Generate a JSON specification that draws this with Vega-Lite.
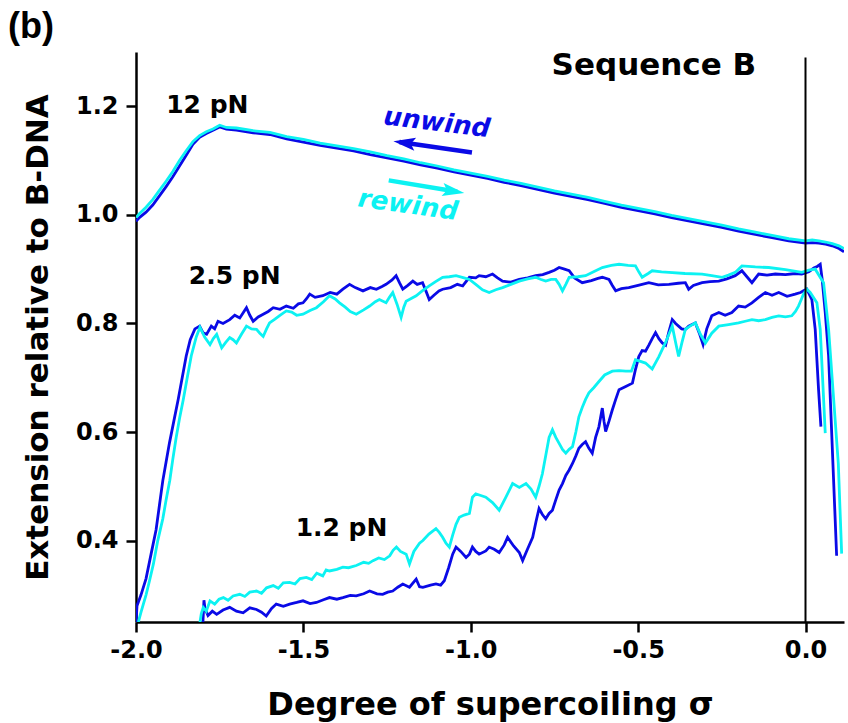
{
"$schema":"https://vega.github.io/schema/vega-lite/v6.json",
"width":708,"height":570,
"autosize":{"type":"none"},
"padding":{"left":136,"top":52,"right":4,"bottom":101},
"background":"white",
"config":{"view":{"stroke":null},"axis":{"grid":false,"domainColor":"black","domainWidth":2.5,"tickColor":"black","tickWidth":2.5,"tickSize":10,"labelFont":"DejaVu Sans","labelFontSize":24,"labelFontWeight":"bold","labelColor":"black","titleFont":"DejaVu Sans","titleFontSize":31,"titleFontWeight":"bold","titleColor":"black","labelFlush":false,"labelOverlap":false}},
"title":{"text":"(b)","anchor":"start","frame":"group","font":"Liberation Sans","fontSize":36,"fontWeight":"bold","color":"black","dx":-128,"dy":36,"offset":12,"baseline":"alphabetic"},
"datasets":{
"curves":[
{"f":"12","d":"unwind","x":-2.0,"y":0.988},{"f":"12","d":"unwind","x":-1.99,"y":0.995},{"f":"12","d":"unwind","x":-1.97,"y":1.005},{"f":"12","d":"unwind","x":-1.95,"y":1.018},{"f":"12","d":"unwind","x":-1.93,"y":1.035},{"f":"12","d":"unwind","x":-1.91,"y":1.052},{"f":"12","d":"unwind","x":-1.89,"y":1.07},{"f":"12","d":"unwind","x":-1.87,"y":1.09},{"f":"12","d":"unwind","x":-1.85,"y":1.11},{"f":"12","d":"unwind","x":-1.83,"y":1.13},{"f":"12","d":"unwind","x":-1.81,"y":1.143},{"f":"12","d":"unwind","x":-1.79,"y":1.15},{"f":"12","d":"unwind","x":-1.77,"y":1.156},{"f":"12","d":"unwind","x":-1.75,"y":1.162},{"f":"12","d":"unwind","x":-1.73,"y":1.158},{"f":"12","d":"unwind","x":-1.7,"y":1.156},{"f":"12","d":"unwind","x":-1.65,"y":1.151},{"f":"12","d":"unwind","x":-1.6,"y":1.148},{"f":"12","d":"unwind","x":-1.55,"y":1.14},{"f":"12","d":"unwind","x":-1.5,"y":1.134},{"f":"12","d":"unwind","x":-1.45,"y":1.128},{"f":"12","d":"unwind","x":-1.4,"y":1.123},{"f":"12","d":"unwind","x":-1.35,"y":1.118},{"f":"12","d":"unwind","x":-1.3,"y":1.111},{"f":"12","d":"unwind","x":-1.25,"y":1.105},{"f":"12","d":"unwind","x":-1.2,"y":1.099},{"f":"12","d":"unwind","x":-1.15,"y":1.092},{"f":"12","d":"unwind","x":-1.1,"y":1.086},{"f":"12","d":"unwind","x":-1.05,"y":1.079},{"f":"12","d":"unwind","x":-1.0,"y":1.073},{"f":"12","d":"unwind","x":-0.95,"y":1.067},{"f":"12","d":"unwind","x":-0.9,"y":1.06},{"f":"12","d":"unwind","x":-0.85,"y":1.054},{"f":"12","d":"unwind","x":-0.8,"y":1.047},{"f":"12","d":"unwind","x":-0.75,"y":1.04},{"f":"12","d":"unwind","x":-0.7,"y":1.034},{"f":"12","d":"unwind","x":-0.65,"y":1.028},{"f":"12","d":"unwind","x":-0.6,"y":1.021},{"f":"12","d":"unwind","x":-0.55,"y":1.014},{"f":"12","d":"unwind","x":-0.5,"y":1.008},{"f":"12","d":"unwind","x":-0.45,"y":1.002},{"f":"12","d":"unwind","x":-0.4,"y":0.995},{"f":"12","d":"unwind","x":-0.35,"y":0.989},{"f":"12","d":"unwind","x":-0.3,"y":0.983},{"f":"12","d":"unwind","x":-0.25,"y":0.977},{"f":"12","d":"unwind","x":-0.2,"y":0.97},{"f":"12","d":"unwind","x":-0.15,"y":0.964},{"f":"12","d":"unwind","x":-0.1,"y":0.958},{"f":"12","d":"unwind","x":-0.05,"y":0.952},{"f":"12","d":"unwind","x":0.0,"y":0.948},{"f":"12","d":"unwind","x":0.02,"y":0.949},{"f":"12","d":"unwind","x":0.04,"y":0.948},{"f":"12","d":"unwind","x":0.06,"y":0.946},{"f":"12","d":"unwind","x":0.08,"y":0.943},{"f":"12","d":"unwind","x":0.1,"y":0.938},{"f":"12","d":"unwind","x":0.115,"y":0.932},
{"f":"12","d":"rewind","x":-2.0,"y":0.995},{"f":"12","d":"rewind","x":-1.99,"y":1.002},{"f":"12","d":"rewind","x":-1.97,"y":1.014},{"f":"12","d":"rewind","x":-1.95,"y":1.028},{"f":"12","d":"rewind","x":-1.93,"y":1.045},{"f":"12","d":"rewind","x":-1.91,"y":1.062},{"f":"12","d":"rewind","x":-1.89,"y":1.08},{"f":"12","d":"rewind","x":-1.87,"y":1.1},{"f":"12","d":"rewind","x":-1.85,"y":1.118},{"f":"12","d":"rewind","x":-1.83,"y":1.135},{"f":"12","d":"rewind","x":-1.81,"y":1.146},{"f":"12","d":"rewind","x":-1.79,"y":1.153},{"f":"12","d":"rewind","x":-1.77,"y":1.158},{"f":"12","d":"rewind","x":-1.75,"y":1.165},{"f":"12","d":"rewind","x":-1.73,"y":1.161},{"f":"12","d":"rewind","x":-1.7,"y":1.16},{"f":"12","d":"rewind","x":-1.65,"y":1.155},{"f":"12","d":"rewind","x":-1.6,"y":1.152},{"f":"12","d":"rewind","x":-1.55,"y":1.144},{"f":"12","d":"rewind","x":-1.5,"y":1.139},{"f":"12","d":"rewind","x":-1.45,"y":1.132},{"f":"12","d":"rewind","x":-1.4,"y":1.127},{"f":"12","d":"rewind","x":-1.35,"y":1.122},{"f":"12","d":"rewind","x":-1.3,"y":1.116},{"f":"12","d":"rewind","x":-1.25,"y":1.109},{"f":"12","d":"rewind","x":-1.2,"y":1.103},{"f":"12","d":"rewind","x":-1.15,"y":1.096},{"f":"12","d":"rewind","x":-1.1,"y":1.09},{"f":"12","d":"rewind","x":-1.05,"y":1.083},{"f":"12","d":"rewind","x":-1.0,"y":1.077},{"f":"12","d":"rewind","x":-0.95,"y":1.071},{"f":"12","d":"rewind","x":-0.9,"y":1.064},{"f":"12","d":"rewind","x":-0.85,"y":1.058},{"f":"12","d":"rewind","x":-0.8,"y":1.051},{"f":"12","d":"rewind","x":-0.75,"y":1.044},{"f":"12","d":"rewind","x":-0.7,"y":1.038},{"f":"12","d":"rewind","x":-0.65,"y":1.032},{"f":"12","d":"rewind","x":-0.6,"y":1.025},{"f":"12","d":"rewind","x":-0.55,"y":1.018},{"f":"12","d":"rewind","x":-0.5,"y":1.012},{"f":"12","d":"rewind","x":-0.45,"y":1.006},{"f":"12","d":"rewind","x":-0.4,"y":0.999},{"f":"12","d":"rewind","x":-0.35,"y":0.993},{"f":"12","d":"rewind","x":-0.3,"y":0.987},{"f":"12","d":"rewind","x":-0.25,"y":0.981},{"f":"12","d":"rewind","x":-0.2,"y":0.974},{"f":"12","d":"rewind","x":-0.15,"y":0.968},{"f":"12","d":"rewind","x":-0.1,"y":0.962},{"f":"12","d":"rewind","x":-0.05,"y":0.956},{"f":"12","d":"rewind","x":0.0,"y":0.952},{"f":"12","d":"rewind","x":0.02,"y":0.954},{"f":"12","d":"rewind","x":0.04,"y":0.952},{"f":"12","d":"rewind","x":0.06,"y":0.95},{"f":"12","d":"rewind","x":0.08,"y":0.947},{"f":"12","d":"rewind","x":0.1,"y":0.943},{"f":"12","d":"rewind","x":0.115,"y":0.938},
{"f":"2.5","d":"unwind","x":-2.0,"y":0.25},{"f":"2.5","d":"unwind","x":-1.997,"y":0.28},{"f":"2.5","d":"unwind","x":-1.985,"y":0.3},{"f":"2.5","d":"unwind","x":-1.97,"y":0.33},{"f":"2.5","d":"unwind","x":-1.955,"y":0.375},{"f":"2.5","d":"unwind","x":-1.94,"y":0.42},{"f":"2.5","d":"unwind","x":-1.93,"y":0.465},{"f":"2.5","d":"unwind","x":-1.92,"y":0.51},{"f":"2.5","d":"unwind","x":-1.91,"y":0.545},{"f":"2.5","d":"unwind","x":-1.9,"y":0.58},{"f":"2.5","d":"unwind","x":-1.887,"y":0.62},{"f":"2.5","d":"unwind","x":-1.874,"y":0.66},{"f":"2.5","d":"unwind","x":-1.862,"y":0.7},{"f":"2.5","d":"unwind","x":-1.85,"y":0.74},{"f":"2.5","d":"unwind","x":-1.838,"y":0.77},{"f":"2.5","d":"unwind","x":-1.824,"y":0.79},{"f":"2.5","d":"unwind","x":-1.81,"y":0.795},{"f":"2.5","d":"unwind","x":-1.8,"y":0.783},{"f":"2.5","d":"unwind","x":-1.789,"y":0.78},{"f":"2.5","d":"unwind","x":-1.775,"y":0.795},{"f":"2.5","d":"unwind","x":-1.765,"y":0.79},{"f":"2.5","d":"unwind","x":-1.755,"y":0.804},{"f":"2.5","d":"unwind","x":-1.74,"y":0.8},{"f":"2.5","d":"unwind","x":-1.72,"y":0.807},{"f":"2.5","d":"unwind","x":-1.705,"y":0.815},{"f":"2.5","d":"unwind","x":-1.69,"y":0.81},{"f":"2.5","d":"unwind","x":-1.67,"y":0.829},{"f":"2.5","d":"unwind","x":-1.66,"y":0.815},{"f":"2.5","d":"unwind","x":-1.65,"y":0.804},{"f":"2.5","d":"unwind","x":-1.635,"y":0.812},{"f":"2.5","d":"unwind","x":-1.62,"y":0.817},{"f":"2.5","d":"unwind","x":-1.605,"y":0.822},{"f":"2.5","d":"unwind","x":-1.59,"y":0.829},{"f":"2.5","d":"unwind","x":-1.57,"y":0.826},{"f":"2.5","d":"unwind","x":-1.551,"y":0.832},{"f":"2.5","d":"unwind","x":-1.53,"y":0.828},{"f":"2.5","d":"unwind","x":-1.515,"y":0.836},{"f":"2.5","d":"unwind","x":-1.501,"y":0.838},{"f":"2.5","d":"unwind","x":-1.49,"y":0.846},{"f":"2.5","d":"unwind","x":-1.481,"y":0.854},{"f":"2.5","d":"unwind","x":-1.465,"y":0.848},{"f":"2.5","d":"unwind","x":-1.442,"y":0.851},{"f":"2.5","d":"unwind","x":-1.42,"y":0.857},{"f":"2.5","d":"unwind","x":-1.4,"y":0.854},{"f":"2.5","d":"unwind","x":-1.382,"y":0.863},{"f":"2.5","d":"unwind","x":-1.362,"y":0.872},{"f":"2.5","d":"unwind","x":-1.345,"y":0.866},{"f":"2.5","d":"unwind","x":-1.322,"y":0.86},{"f":"2.5","d":"unwind","x":-1.3,"y":0.866},{"f":"2.5","d":"unwind","x":-1.282,"y":0.863},{"f":"2.5","d":"unwind","x":-1.265,"y":0.868},{"f":"2.5","d":"unwind","x":-1.253,"y":0.872},{"f":"2.5","d":"unwind","x":-1.235,"y":0.88},{"f":"2.5","d":"unwind","x":-1.223,"y":0.888},{"f":"2.5","d":"unwind","x":-1.213,"y":0.875},{"f":"2.5","d":"unwind","x":-1.203,"y":0.863},{"f":"2.5","d":"unwind","x":-1.188,"y":0.87},{"f":"2.5","d":"unwind","x":-1.173,"y":0.878},{"f":"2.5","d":"unwind","x":-1.16,"y":0.872},{"f":"2.5","d":"unwind","x":-1.144,"y":0.875},{"f":"2.5","d":"unwind","x":-1.134,"y":0.86},{"f":"2.5","d":"unwind","x":-1.124,"y":0.844},{"f":"2.5","d":"unwind","x":-1.11,"y":0.852},{"f":"2.5","d":"unwind","x":-1.095,"y":0.86},{"f":"2.5","d":"unwind","x":-1.084,"y":0.863},{"f":"2.5","d":"unwind","x":-1.06,"y":0.866},{"f":"2.5","d":"unwind","x":-1.04,"y":0.872},{"f":"2.5","d":"unwind","x":-1.024,"y":0.869},{"f":"2.5","d":"unwind","x":-1.004,"y":0.885},{"f":"2.5","d":"unwind","x":-0.985,"y":0.884},{"f":"2.5","d":"unwind","x":-0.975,"y":0.888},{"f":"2.5","d":"unwind","x":-0.955,"y":0.886},{"f":"2.5","d":"unwind","x":-0.935,"y":0.891},{"f":"2.5","d":"unwind","x":-0.92,"y":0.884},{"f":"2.5","d":"unwind","x":-0.905,"y":0.878},{"f":"2.5","d":"unwind","x":-0.88,"y":0.876},{"f":"2.5","d":"unwind","x":-0.855,"y":0.881},{"f":"2.5","d":"unwind","x":-0.83,"y":0.884},{"f":"2.5","d":"unwind","x":-0.806,"y":0.888},{"f":"2.5","d":"unwind","x":-0.785,"y":0.89},{"f":"2.5","d":"unwind","x":-0.766,"y":0.894},{"f":"2.5","d":"unwind","x":-0.75,"y":0.898},{"f":"2.5","d":"unwind","x":-0.736,"y":0.903},{"f":"2.5","d":"unwind","x":-0.72,"y":0.9},{"f":"2.5","d":"unwind","x":-0.706,"y":0.897},{"f":"2.5","d":"unwind","x":-0.69,"y":0.884},{"f":"2.5","d":"unwind","x":-0.667,"y":0.875},{"f":"2.5","d":"unwind","x":-0.64,"y":0.879},{"f":"2.5","d":"unwind","x":-0.62,"y":0.883},{"f":"2.5","d":"unwind","x":-0.607,"y":0.885},{"f":"2.5","d":"unwind","x":-0.587,"y":0.881},{"f":"2.5","d":"unwind","x":-0.577,"y":0.87},{"f":"2.5","d":"unwind","x":-0.567,"y":0.86},{"f":"2.5","d":"unwind","x":-0.55,"y":0.864},{"f":"2.5","d":"unwind","x":-0.528,"y":0.866},{"f":"2.5","d":"unwind","x":-0.5,"y":0.87},{"f":"2.5","d":"unwind","x":-0.468,"y":0.875},{"f":"2.5","d":"unwind","x":-0.44,"y":0.871},{"f":"2.5","d":"unwind","x":-0.408,"y":0.872},{"f":"2.5","d":"unwind","x":-0.38,"y":0.874},{"f":"2.5","d":"unwind","x":-0.359,"y":0.875},{"f":"2.5","d":"unwind","x":-0.349,"y":0.863},{"f":"2.5","d":"unwind","x":-0.335,"y":0.87},{"f":"2.5","d":"unwind","x":-0.309,"y":0.875},{"f":"2.5","d":"unwind","x":-0.285,"y":0.877},{"f":"2.5","d":"unwind","x":-0.259,"y":0.878},{"f":"2.5","d":"unwind","x":-0.235,"y":0.882},{"f":"2.5","d":"unwind","x":-0.21,"y":0.888},{"f":"2.5","d":"unwind","x":-0.19,"y":0.897},{"f":"2.5","d":"unwind","x":-0.175,"y":0.886},{"f":"2.5","d":"unwind","x":-0.16,"y":0.875},{"f":"2.5","d":"unwind","x":-0.14,"y":0.891},{"f":"2.5","d":"unwind","x":-0.115,"y":0.889},{"f":"2.5","d":"unwind","x":-0.09,"y":0.891},{"f":"2.5","d":"unwind","x":-0.06,"y":0.89},{"f":"2.5","d":"unwind","x":-0.03,"y":0.892},{"f":"2.5","d":"unwind","x":-0.011,"y":0.891},{"f":"2.5","d":"unwind","x":0.01,"y":0.895},{"f":"2.5","d":"unwind","x":0.025,"y":0.902},{"f":"2.5","d":"unwind","x":0.035,"y":0.905},{"f":"2.5","d":"unwind","x":0.044,"y":0.909},{"f":"2.5","d":"unwind","x":0.05,"y":0.88},{"f":"2.5","d":"unwind","x":0.059,"y":0.82},{"f":"2.5","d":"unwind","x":0.069,"y":0.74},{"f":"2.5","d":"unwind","x":0.093,"y":0.372},
{"f":"2.5","d":"rewind","x":-1.993,"y":0.25},{"f":"2.5","d":"rewind","x":-1.985,"y":0.268},{"f":"2.5","d":"rewind","x":-1.97,"y":0.3},{"f":"2.5","d":"rewind","x":-1.96,"y":0.325},{"f":"2.5","d":"rewind","x":-1.948,"y":0.357},{"f":"2.5","d":"rewind","x":-1.935,"y":0.4},{"f":"2.5","d":"rewind","x":-1.92,"y":0.44},{"f":"2.5","d":"rewind","x":-1.91,"y":0.475},{"f":"2.5","d":"rewind","x":-1.899,"y":0.511},{"f":"2.5","d":"rewind","x":-1.89,"y":0.55},{"f":"2.5","d":"rewind","x":-1.88,"y":0.59},{"f":"2.5","d":"rewind","x":-1.87,"y":0.625},{"f":"2.5","d":"rewind","x":-1.859,"y":0.659},{"f":"2.5","d":"rewind","x":-1.847,"y":0.7},{"f":"2.5","d":"rewind","x":-1.835,"y":0.74},{"f":"2.5","d":"rewind","x":-1.82,"y":0.775},{"f":"2.5","d":"rewind","x":-1.809,"y":0.793},{"f":"2.5","d":"rewind","x":-1.795,"y":0.775},{"f":"2.5","d":"rewind","x":-1.779,"y":0.761},{"f":"2.5","d":"rewind","x":-1.769,"y":0.772},{"f":"2.5","d":"rewind","x":-1.759,"y":0.78},{"f":"2.5","d":"rewind","x":-1.752,"y":0.768},{"f":"2.5","d":"rewind","x":-1.744,"y":0.755},{"f":"2.5","d":"rewind","x":-1.732,"y":0.765},{"f":"2.5","d":"rewind","x":-1.72,"y":0.774},{"f":"2.5","d":"rewind","x":-1.71,"y":0.77},{"f":"2.5","d":"rewind","x":-1.7,"y":0.764},{"f":"2.5","d":"rewind","x":-1.685,"y":0.78},{"f":"2.5","d":"rewind","x":-1.67,"y":0.795},{"f":"2.5","d":"rewind","x":-1.655,"y":0.79},{"f":"2.5","d":"rewind","x":-1.64,"y":0.789},{"f":"2.5","d":"rewind","x":-1.63,"y":0.782},{"f":"2.5","d":"rewind","x":-1.62,"y":0.776},{"f":"2.5","d":"rewind","x":-1.61,"y":0.79},{"f":"2.5","d":"rewind","x":-1.601,"y":0.801},{"f":"2.5","d":"rewind","x":-1.585,"y":0.808},{"f":"2.5","d":"rewind","x":-1.57,"y":0.815},{"f":"2.5","d":"rewind","x":-1.551,"y":0.823},{"f":"2.5","d":"rewind","x":-1.535,"y":0.821},{"f":"2.5","d":"rewind","x":-1.52,"y":0.815},{"f":"2.5","d":"rewind","x":-1.501,"y":0.817},{"f":"2.5","d":"rewind","x":-1.48,"y":0.824},{"f":"2.5","d":"rewind","x":-1.461,"y":0.829},{"f":"2.5","d":"rewind","x":-1.44,"y":0.84},{"f":"2.5","d":"rewind","x":-1.422,"y":0.851},{"f":"2.5","d":"rewind","x":-1.405,"y":0.845},{"f":"2.5","d":"rewind","x":-1.392,"y":0.838},{"f":"2.5","d":"rewind","x":-1.375,"y":0.83},{"f":"2.5","d":"rewind","x":-1.36,"y":0.822},{"f":"2.5","d":"rewind","x":-1.342,"y":0.817},{"f":"2.5","d":"rewind","x":-1.32,"y":0.825},{"f":"2.5","d":"rewind","x":-1.302,"y":0.832},{"f":"2.5","d":"rewind","x":-1.285,"y":0.84},{"f":"2.5","d":"rewind","x":-1.273,"y":0.844},{"f":"2.5","d":"rewind","x":-1.253,"y":0.838},{"f":"2.5","d":"rewind","x":-1.243,"y":0.848},{"f":"2.5","d":"rewind","x":-1.233,"y":0.857},{"f":"2.5","d":"rewind","x":-1.22,"y":0.835},{"f":"2.5","d":"rewind","x":-1.208,"y":0.811},{"f":"2.5","d":"rewind","x":-1.2,"y":0.83},{"f":"2.5","d":"rewind","x":-1.193,"y":0.841},{"f":"2.5","d":"rewind","x":-1.178,"y":0.846},{"f":"2.5","d":"rewind","x":-1.163,"y":0.851},{"f":"2.5","d":"rewind","x":-1.145,"y":0.86},{"f":"2.5","d":"rewind","x":-1.124,"y":0.869},{"f":"2.5","d":"rewind","x":-1.105,"y":0.877},{"f":"2.5","d":"rewind","x":-1.084,"y":0.885},{"f":"2.5","d":"rewind","x":-1.064,"y":0.886},{"f":"2.5","d":"rewind","x":-1.044,"y":0.888},{"f":"2.5","d":"rewind","x":-1.02,"y":0.884},{"f":"2.5","d":"rewind","x":-1.004,"y":0.881},{"f":"2.5","d":"rewind","x":-0.985,"y":0.872},{"f":"2.5","d":"rewind","x":-0.965,"y":0.862},{"f":"2.5","d":"rewind","x":-0.945,"y":0.857},{"f":"2.5","d":"rewind","x":-0.925,"y":0.862},{"f":"2.5","d":"rewind","x":-0.905,"y":0.866},{"f":"2.5","d":"rewind","x":-0.88,"y":0.872},{"f":"2.5","d":"rewind","x":-0.855,"y":0.878},{"f":"2.5","d":"rewind","x":-0.83,"y":0.882},{"f":"2.5","d":"rewind","x":-0.806,"y":0.885},{"f":"2.5","d":"rewind","x":-0.79,"y":0.881},{"f":"2.5","d":"rewind","x":-0.776,"y":0.878},{"f":"2.5","d":"rewind","x":-0.76,"y":0.881},{"f":"2.5","d":"rewind","x":-0.746,"y":0.881},{"f":"2.5","d":"rewind","x":-0.736,"y":0.872},{"f":"2.5","d":"rewind","x":-0.726,"y":0.86},{"f":"2.5","d":"rewind","x":-0.716,"y":0.872},{"f":"2.5","d":"rewind","x":-0.706,"y":0.885},{"f":"2.5","d":"rewind","x":-0.68,"y":0.886},{"f":"2.5","d":"rewind","x":-0.657,"y":0.888},{"f":"2.5","d":"rewind","x":-0.63,"y":0.896},{"f":"2.5","d":"rewind","x":-0.607,"y":0.903},{"f":"2.5","d":"rewind","x":-0.58,"y":0.907},{"f":"2.5","d":"rewind","x":-0.557,"y":0.909},{"f":"2.5","d":"rewind","x":-0.53,"y":0.907},{"f":"2.5","d":"rewind","x":-0.508,"y":0.906},{"f":"2.5","d":"rewind","x":-0.498,"y":0.895},{"f":"2.5","d":"rewind","x":-0.488,"y":0.885},{"f":"2.5","d":"rewind","x":-0.47,"y":0.892},{"f":"2.5","d":"rewind","x":-0.458,"y":0.897},{"f":"2.5","d":"rewind","x":-0.43,"y":0.895},{"f":"2.5","d":"rewind","x":-0.408,"y":0.894},{"f":"2.5","d":"rewind","x":-0.36,"y":0.892},{"f":"2.5","d":"rewind","x":-0.309,"y":0.891},{"f":"2.5","d":"rewind","x":-0.28,"y":0.888},{"f":"2.5","d":"rewind","x":-0.249,"y":0.885},{"f":"2.5","d":"rewind","x":-0.23,"y":0.889},{"f":"2.5","d":"rewind","x":-0.21,"y":0.894},{"f":"2.5","d":"rewind","x":-0.19,"y":0.906},{"f":"2.5","d":"rewind","x":-0.15,"y":0.904},{"f":"2.5","d":"rewind","x":-0.11,"y":0.903},{"f":"2.5","d":"rewind","x":-0.06,"y":0.899},{"f":"2.5","d":"rewind","x":-0.011,"y":0.894},{"f":"2.5","d":"rewind","x":0.01,"y":0.898},{"f":"2.5","d":"rewind","x":0.029,"y":0.9},{"f":"2.5","d":"rewind","x":0.054,"y":0.875},{"f":"2.5","d":"rewind","x":0.069,"y":0.789},{"f":"2.5","d":"rewind","x":0.098,"y":0.542},{"f":"2.5","d":"rewind","x":0.108,"y":0.376},
{"f":"1.2","d":"unwind","x":-1.8,"y":0.25},{"f":"1.2","d":"unwind","x":-1.797,"y":0.29},{"f":"1.2","d":"unwind","x":-1.794,"y":0.275},{"f":"1.2","d":"unwind","x":-1.785,"y":0.262},{"f":"1.2","d":"unwind","x":-1.772,"y":0.27},{"f":"1.2","d":"unwind","x":-1.759,"y":0.264},{"f":"1.2","d":"unwind","x":-1.74,"y":0.272},{"f":"1.2","d":"unwind","x":-1.72,"y":0.277},{"f":"1.2","d":"unwind","x":-1.7,"y":0.27},{"f":"1.2","d":"unwind","x":-1.68,"y":0.267},{"f":"1.2","d":"unwind","x":-1.66,"y":0.276},{"f":"1.2","d":"unwind","x":-1.64,"y":0.273},{"f":"1.2","d":"unwind","x":-1.625,"y":0.268},{"f":"1.2","d":"unwind","x":-1.611,"y":0.261},{"f":"1.2","d":"unwind","x":-1.595,"y":0.275},{"f":"1.2","d":"unwind","x":-1.581,"y":0.283},{"f":"1.2","d":"unwind","x":-1.56,"y":0.279},{"f":"1.2","d":"unwind","x":-1.541,"y":0.283},{"f":"1.2","d":"unwind","x":-1.52,"y":0.286},{"f":"1.2","d":"unwind","x":-1.501,"y":0.289},{"f":"1.2","d":"unwind","x":-1.48,"y":0.284},{"f":"1.2","d":"unwind","x":-1.461,"y":0.286},{"f":"1.2","d":"unwind","x":-1.44,"y":0.291},{"f":"1.2","d":"unwind","x":-1.422,"y":0.295},{"f":"1.2","d":"unwind","x":-1.4,"y":0.292},{"f":"1.2","d":"unwind","x":-1.382,"y":0.295},{"f":"1.2","d":"unwind","x":-1.36,"y":0.299},{"f":"1.2","d":"unwind","x":-1.342,"y":0.298},{"f":"1.2","d":"unwind","x":-1.32,"y":0.302},{"f":"1.2","d":"unwind","x":-1.302,"y":0.307},{"f":"1.2","d":"unwind","x":-1.28,"y":0.302},{"f":"1.2","d":"unwind","x":-1.263,"y":0.301},{"f":"1.2","d":"unwind","x":-1.248,"y":0.305},{"f":"1.2","d":"unwind","x":-1.233,"y":0.307},{"f":"1.2","d":"unwind","x":-1.218,"y":0.314},{"f":"1.2","d":"unwind","x":-1.203,"y":0.32},{"f":"1.2","d":"unwind","x":-1.183,"y":0.314},{"f":"1.2","d":"unwind","x":-1.163,"y":0.329},{"f":"1.2","d":"unwind","x":-1.153,"y":0.315},{"f":"1.2","d":"unwind","x":-1.143,"y":0.314},{"f":"1.2","d":"unwind","x":-1.12,"y":0.318},{"f":"1.2","d":"unwind","x":-1.104,"y":0.32},{"f":"1.2","d":"unwind","x":-1.09,"y":0.318},{"f":"1.2","d":"unwind","x":-1.079,"y":0.326},{"f":"1.2","d":"unwind","x":-1.066,"y":0.35},{"f":"1.2","d":"unwind","x":-1.054,"y":0.375},{"f":"1.2","d":"unwind","x":-1.044,"y":0.388},{"f":"1.2","d":"unwind","x":-1.03,"y":0.38},{"f":"1.2","d":"unwind","x":-1.014,"y":0.369},{"f":"1.2","d":"unwind","x":-1.004,"y":0.375},{"f":"1.2","d":"unwind","x":-0.995,"y":0.388},{"f":"1.2","d":"unwind","x":-0.985,"y":0.38},{"f":"1.2","d":"unwind","x":-0.975,"y":0.375},{"f":"1.2","d":"unwind","x":-0.955,"y":0.381},{"f":"1.2","d":"unwind","x":-0.945,"y":0.388},{"f":"1.2","d":"unwind","x":-0.93,"y":0.384},{"f":"1.2","d":"unwind","x":-0.915,"y":0.378},{"f":"1.2","d":"unwind","x":-0.9,"y":0.392},{"f":"1.2","d":"unwind","x":-0.89,"y":0.406},{"f":"1.2","d":"unwind","x":-0.872,"y":0.39},{"f":"1.2","d":"unwind","x":-0.855,"y":0.378},{"f":"1.2","d":"unwind","x":-0.845,"y":0.363},{"f":"1.2","d":"unwind","x":-0.83,"y":0.385},{"f":"1.2","d":"unwind","x":-0.815,"y":0.406},{"f":"1.2","d":"unwind","x":-0.805,"y":0.435},{"f":"1.2","d":"unwind","x":-0.796,"y":0.459},{"f":"1.2","d":"unwind","x":-0.786,"y":0.448},{"f":"1.2","d":"unwind","x":-0.776,"y":0.44},{"f":"1.2","d":"unwind","x":-0.766,"y":0.45},{"f":"1.2","d":"unwind","x":-0.756,"y":0.456},{"f":"1.2","d":"unwind","x":-0.746,"y":0.475},{"f":"1.2","d":"unwind","x":-0.736,"y":0.493},{"f":"1.2","d":"unwind","x":-0.726,"y":0.505},{"f":"1.2","d":"unwind","x":-0.716,"y":0.52},{"f":"1.2","d":"unwind","x":-0.706,"y":0.53},{"f":"1.2","d":"unwind","x":-0.696,"y":0.542},{"f":"1.2","d":"unwind","x":-0.686,"y":0.556},{"f":"1.2","d":"unwind","x":-0.677,"y":0.57},{"f":"1.2","d":"unwind","x":-0.667,"y":0.577},{"f":"1.2","d":"unwind","x":-0.657,"y":0.582},{"f":"1.2","d":"unwind","x":-0.647,"y":0.57},{"f":"1.2","d":"unwind","x":-0.637,"y":0.561},{"f":"1.2","d":"unwind","x":-0.627,"y":0.59},{"f":"1.2","d":"unwind","x":-0.617,"y":0.61},{"f":"1.2","d":"unwind","x":-0.607,"y":0.644},{"f":"1.2","d":"unwind","x":-0.602,"y":0.62},{"f":"1.2","d":"unwind","x":-0.597,"y":0.601},{"f":"1.2","d":"unwind","x":-0.587,"y":0.62},{"f":"1.2","d":"unwind","x":-0.577,"y":0.641},{"f":"1.2","d":"unwind","x":-0.567,"y":0.66},{"f":"1.2","d":"unwind","x":-0.557,"y":0.678},{"f":"1.2","d":"unwind","x":-0.537,"y":0.684},{"f":"1.2","d":"unwind","x":-0.517,"y":0.69},{"f":"1.2","d":"unwind","x":-0.508,"y":0.715},{"f":"1.2","d":"unwind","x":-0.498,"y":0.739},{"f":"1.2","d":"unwind","x":-0.488,"y":0.75},{"f":"1.2","d":"unwind","x":-0.478,"y":0.749},{"f":"1.2","d":"unwind","x":-0.468,"y":0.76},{"f":"1.2","d":"unwind","x":-0.458,"y":0.772},{"f":"1.2","d":"unwind","x":-0.448,"y":0.783},{"f":"1.2","d":"unwind","x":-0.438,"y":0.772},{"f":"1.2","d":"unwind","x":-0.428,"y":0.764},{"f":"1.2","d":"unwind","x":-0.418,"y":0.76},{"f":"1.2","d":"unwind","x":-0.408,"y":0.785},{"f":"1.2","d":"unwind","x":-0.398,"y":0.807},{"f":"1.2","d":"unwind","x":-0.388,"y":0.8},{"f":"1.2","d":"unwind","x":-0.37,"y":0.79},{"f":"1.2","d":"unwind","x":-0.359,"y":0.789},{"f":"1.2","d":"unwind","x":-0.349,"y":0.795},{"f":"1.2","d":"unwind","x":-0.329,"y":0.801},{"f":"1.2","d":"unwind","x":-0.316,"y":0.78},{"f":"1.2","d":"unwind","x":-0.306,"y":0.761},{"f":"1.2","d":"unwind","x":-0.295,"y":0.79},{"f":"1.2","d":"unwind","x":-0.28,"y":0.814},{"f":"1.2","d":"unwind","x":-0.259,"y":0.82},{"f":"1.2","d":"unwind","x":-0.24,"y":0.815},{"f":"1.2","d":"unwind","x":-0.22,"y":0.82},{"f":"1.2","d":"unwind","x":-0.2,"y":0.832},{"f":"1.2","d":"unwind","x":-0.18,"y":0.83},{"f":"1.2","d":"unwind","x":-0.16,"y":0.838},{"f":"1.2","d":"unwind","x":-0.14,"y":0.848},{"f":"1.2","d":"unwind","x":-0.12,"y":0.857},{"f":"1.2","d":"unwind","x":-0.1,"y":0.852},{"f":"1.2","d":"unwind","x":-0.08,"y":0.857},{"f":"1.2","d":"unwind","x":-0.055,"y":0.85},{"f":"1.2","d":"unwind","x":-0.031,"y":0.854},{"f":"1.2","d":"unwind","x":-0.015,"y":0.857},{"f":"1.2","d":"unwind","x":-0.006,"y":0.86},{"f":"1.2","d":"unwind","x":0.004,"y":0.863},{"f":"1.2","d":"unwind","x":0.019,"y":0.844},{"f":"1.2","d":"unwind","x":0.029,"y":0.789},{"f":"1.2","d":"unwind","x":0.039,"y":0.678},{"f":"1.2","d":"unwind","x":0.046,"y":0.61},
{"f":"1.2","d":"rewind","x":-1.809,"y":0.249},{"f":"1.2","d":"rewind","x":-1.805,"y":0.265},{"f":"1.2","d":"rewind","x":-1.799,"y":0.277},{"f":"1.2","d":"rewind","x":-1.79,"y":0.27},{"f":"1.2","d":"rewind","x":-1.779,"y":0.289},{"f":"1.2","d":"rewind","x":-1.765,"y":0.283},{"f":"1.2","d":"rewind","x":-1.752,"y":0.292},{"f":"1.2","d":"rewind","x":-1.739,"y":0.295},{"f":"1.2","d":"rewind","x":-1.725,"y":0.29},{"f":"1.2","d":"rewind","x":-1.71,"y":0.298},{"f":"1.2","d":"rewind","x":-1.69,"y":0.301},{"f":"1.2","d":"rewind","x":-1.675,"y":0.297},{"f":"1.2","d":"rewind","x":-1.66,"y":0.305},{"f":"1.2","d":"rewind","x":-1.64,"y":0.307},{"f":"1.2","d":"rewind","x":-1.625,"y":0.303},{"f":"1.2","d":"rewind","x":-1.61,"y":0.313},{"f":"1.2","d":"rewind","x":-1.59,"y":0.317},{"f":"1.2","d":"rewind","x":-1.575,"y":0.312},{"f":"1.2","d":"rewind","x":-1.56,"y":0.322},{"f":"1.2","d":"rewind","x":-1.541,"y":0.323},{"f":"1.2","d":"rewind","x":-1.525,"y":0.32},{"f":"1.2","d":"rewind","x":-1.51,"y":0.33},{"f":"1.2","d":"rewind","x":-1.491,"y":0.332},{"f":"1.2","d":"rewind","x":-1.475,"y":0.328},{"f":"1.2","d":"rewind","x":-1.46,"y":0.34},{"f":"1.2","d":"rewind","x":-1.442,"y":0.335},{"f":"1.2","d":"rewind","x":-1.432,"y":0.346},{"f":"1.2","d":"rewind","x":-1.422,"y":0.344},{"f":"1.2","d":"rewind","x":-1.4,"y":0.347},{"f":"1.2","d":"rewind","x":-1.382,"y":0.351},{"f":"1.2","d":"rewind","x":-1.365,"y":0.35},{"f":"1.2","d":"rewind","x":-1.342,"y":0.354},{"f":"1.2","d":"rewind","x":-1.32,"y":0.36},{"f":"1.2","d":"rewind","x":-1.305,"y":0.358},{"f":"1.2","d":"rewind","x":-1.292,"y":0.363},{"f":"1.2","d":"rewind","x":-1.275,"y":0.368},{"f":"1.2","d":"rewind","x":-1.258,"y":0.365},{"f":"1.2","d":"rewind","x":-1.242,"y":0.372},{"f":"1.2","d":"rewind","x":-1.232,"y":0.382},{"f":"1.2","d":"rewind","x":-1.222,"y":0.388},{"f":"1.2","d":"rewind","x":-1.21,"y":0.38},{"f":"1.2","d":"rewind","x":-1.193,"y":0.375},{"f":"1.2","d":"rewind","x":-1.183,"y":0.357},{"f":"1.2","d":"rewind","x":-1.17,"y":0.38},{"f":"1.2","d":"rewind","x":-1.153,"y":0.395},{"f":"1.2","d":"rewind","x":-1.143,"y":0.4},{"f":"1.2","d":"rewind","x":-1.125,"y":0.412},{"f":"1.2","d":"rewind","x":-1.104,"y":0.422},{"f":"1.2","d":"rewind","x":-1.094,"y":0.415},{"f":"1.2","d":"rewind","x":-1.084,"y":0.406},{"f":"1.2","d":"rewind","x":-1.074,"y":0.395},{"f":"1.2","d":"rewind","x":-1.064,"y":0.388},{"f":"1.2","d":"rewind","x":-1.054,"y":0.41},{"f":"1.2","d":"rewind","x":-1.044,"y":0.43},{"f":"1.2","d":"rewind","x":-1.034,"y":0.443},{"f":"1.2","d":"rewind","x":-1.02,"y":0.447},{"f":"1.2","d":"rewind","x":-1.004,"y":0.45},{"f":"1.2","d":"rewind","x":-0.995,"y":0.48},{"f":"1.2","d":"rewind","x":-0.985,"y":0.486},{"f":"1.2","d":"rewind","x":-0.97,"y":0.483},{"f":"1.2","d":"rewind","x":-0.955,"y":0.48},{"f":"1.2","d":"rewind","x":-0.935,"y":0.47},{"f":"1.2","d":"rewind","x":-0.915,"y":0.456},{"f":"1.2","d":"rewind","x":-0.895,"y":0.48},{"f":"1.2","d":"rewind","x":-0.875,"y":0.505},{"f":"1.2","d":"rewind","x":-0.855,"y":0.498},{"f":"1.2","d":"rewind","x":-0.835,"y":0.505},{"f":"1.2","d":"rewind","x":-0.82,"y":0.495},{"f":"1.2","d":"rewind","x":-0.806,"y":0.48},{"f":"1.2","d":"rewind","x":-0.796,"y":0.5},{"f":"1.2","d":"rewind","x":-0.786,"y":0.523},{"f":"1.2","d":"rewind","x":-0.775,"y":0.56},{"f":"1.2","d":"rewind","x":-0.766,"y":0.59},{"f":"1.2","d":"rewind","x":-0.756,"y":0.604},{"f":"1.2","d":"rewind","x":-0.746,"y":0.59},{"f":"1.2","d":"rewind","x":-0.736,"y":0.579},{"f":"1.2","d":"rewind","x":-0.726,"y":0.568},{"f":"1.2","d":"rewind","x":-0.716,"y":0.561},{"f":"1.2","d":"rewind","x":-0.706,"y":0.568},{"f":"1.2","d":"rewind","x":-0.696,"y":0.573},{"f":"1.2","d":"rewind","x":-0.686,"y":0.6},{"f":"1.2","d":"rewind","x":-0.677,"y":0.628},{"f":"1.2","d":"rewind","x":-0.667,"y":0.645},{"f":"1.2","d":"rewind","x":-0.657,"y":0.66},{"f":"1.2","d":"rewind","x":-0.647,"y":0.672},{"f":"1.2","d":"rewind","x":-0.632,"y":0.682},{"f":"1.2","d":"rewind","x":-0.617,"y":0.693},{"f":"1.2","d":"rewind","x":-0.6,"y":0.705},{"f":"1.2","d":"rewind","x":-0.577,"y":0.712},{"f":"1.2","d":"rewind","x":-0.557,"y":0.713},{"f":"1.2","d":"rewind","x":-0.537,"y":0.712},{"f":"1.2","d":"rewind","x":-0.52,"y":0.712},{"f":"1.2","d":"rewind","x":-0.508,"y":0.733},{"f":"1.2","d":"rewind","x":-0.493,"y":0.73},{"f":"1.2","d":"rewind","x":-0.478,"y":0.727},{"f":"1.2","d":"rewind","x":-0.458,"y":0.716},{"f":"1.2","d":"rewind","x":-0.438,"y":0.739},{"f":"1.2","d":"rewind","x":-0.418,"y":0.765},{"f":"1.2","d":"rewind","x":-0.408,"y":0.78},{"f":"1.2","d":"rewind","x":-0.398,"y":0.795},{"f":"1.2","d":"rewind","x":-0.388,"y":0.765},{"f":"1.2","d":"rewind","x":-0.379,"y":0.739},{"f":"1.2","d":"rewind","x":-0.369,"y":0.765},{"f":"1.2","d":"rewind","x":-0.359,"y":0.789},{"f":"1.2","d":"rewind","x":-0.345,"y":0.795},{"f":"1.2","d":"rewind","x":-0.329,"y":0.801},{"f":"1.2","d":"rewind","x":-0.314,"y":0.78},{"f":"1.2","d":"rewind","x":-0.299,"y":0.764},{"f":"1.2","d":"rewind","x":-0.28,"y":0.782},{"f":"1.2","d":"rewind","x":-0.259,"y":0.795},{"f":"1.2","d":"rewind","x":-0.23,"y":0.798},{"f":"1.2","d":"rewind","x":-0.2,"y":0.801},{"f":"1.2","d":"rewind","x":-0.18,"y":0.804},{"f":"1.2","d":"rewind","x":-0.16,"y":0.807},{"f":"1.2","d":"rewind","x":-0.14,"y":0.805},{"f":"1.2","d":"rewind","x":-0.12,"y":0.807},{"f":"1.2","d":"rewind","x":-0.1,"y":0.811},{"f":"1.2","d":"rewind","x":-0.08,"y":0.814},{"f":"1.2","d":"rewind","x":-0.06,"y":0.812},{"f":"1.2","d":"rewind","x":-0.041,"y":0.814},{"f":"1.2","d":"rewind","x":-0.03,"y":0.822},{"f":"1.2","d":"rewind","x":-0.021,"y":0.832},{"f":"1.2","d":"rewind","x":-0.012,"y":0.845},{"f":"1.2","d":"rewind","x":-0.006,"y":0.854},{"f":"1.2","d":"rewind","x":0.004,"y":0.863},{"f":"1.2","d":"rewind","x":0.014,"y":0.857},{"f":"1.2","d":"rewind","x":0.034,"y":0.838},{"f":"1.2","d":"rewind","x":0.044,"y":0.789},{"f":"1.2","d":"rewind","x":0.059,"y":0.598}
],
"forces":[{"x":-1.787,"y":1.187,"t":"12 pN"},{"x":-1.705,"y":0.8735,"t":"2.5 pN"},{"x":-1.386,"y":0.4093,"t":"1.2 pN"}]
},
"layer":[
{"data":{"name":"curves"},"mark":{"type":"line","strokeWidth":2.8,"clip":true},
 "encoding":{
  "x":{"field":"x","type":"quantitative","scale":{"domain":[-2,0.115],"nice":false,"zero":false},
       "axis":{"values":[-2,-1.5,-1,-0.5,0],"labelExpr":"(datum.value < 0 ? '-' : '') + format(abs(datum.value), '.1f')","labelPadding":6,"title":"Degree of supercoiling σ","titleFontSize":32,"titlePadding":27}},
  "y":{"field":"y","type":"quantitative","scale":{"domain":[0.25,1.3],"nice":false,"zero":false},
       "axis":{"values":[0.4,0.6,0.8,1.0,1.2],"format":".1f","labelPadding":8,"title":"Extension relative to B-DNA","titlePadding":21}},
  "color":{"field":"d","type":"nominal","scale":{"domain":["unwind","rewind"],"range":["#0A0AE6","#0CF2F2"]},"legend":null},
  "detail":{"field":"f","type":"nominal"}
 }},
{"data":{"values":[{"x":0}]},"mark":{"type":"rule","color":"black","strokeWidth":2},
 "encoding":{"x":{"field":"x","type":"quantitative"},"y":{"datum":1.29},"y2":{"datum":0.25}}},
{"data":{"name":"forces"},"mark":{"type":"text","font":"DejaVu Sans","fontSize":25,"fontWeight":"bold","color":"black","align":"center","baseline":"alphabetic"},
 "encoding":{"x":{"field":"x","type":"quantitative"},"y":{"field":"y","type":"quantitative"},"text":{"field":"t"}}},
{"data":{"values":[{"x":-0.453,"y":1.2569,"t":"Sequence B"}]},"mark":{"type":"text","font":"DejaVu Sans","fontSize":31,"fontWeight":"bold","color":"black","align":"center","baseline":"alphabetic"},
 "encoding":{"x":{"field":"x","type":"quantitative"},"y":{"field":"y","type":"quantitative"},"text":{"field":"t"}}},
{"data":{"values":[{"x":-1.104,"y":1.155,"t":"unwind"}]},"mark":{"type":"text","font":"DejaVu Sans","fontSize":26,"fontWeight":"bold","fontStyle":"italic","color":"#0A0AE6","align":"center","baseline":"alphabetic","angle":7},
 "encoding":{"x":{"field":"x","type":"quantitative"},"y":{"field":"y","type":"quantitative"},"text":{"field":"t"}}},
{"data":{"values":[{"x":-1.191,"y":1.0031,"t":"rewind"}]},"mark":{"type":"text","font":"DejaVu Sans","fontSize":26,"fontWeight":"bold","fontStyle":"italic","color":"#0CF2F2","align":"center","baseline":"alphabetic","angle":8},
 "encoding":{"x":{"field":"x","type":"quantitative"},"y":{"field":"y","type":"quantitative"},"text":{"field":"t"}}},
{"data":{"values":[{"x":-0.9964,"y":1.1148,"x2":-1.2131,"y2":1.1343}]},"mark":{"type":"rule","color":"#0A0AE6","strokeWidth":4.5},
 "encoding":{"x":{"field":"x","type":"quantitative"},"y":{"field":"y","type":"quantitative"},"x2":{"field":"x2"},"y2":{"field":"y2"}}},
{"data":{"values":[{"x":-1.1985,"y":1.1328}]},"mark":{"type":"point","shape":"M-1,0L1,-0.6L0.6,0L1,0.6Z","filled":true,"opacity":1,"size":484,"angle":8,"color":"#0A0AE6"},
 "encoding":{"x":{"field":"x","type":"quantitative"},"y":{"field":"y","type":"quantitative"}}},
{"data":{"values":[{"x":-1.245,"y":1.0635,"x2":-1.0402,"y2":1.0426}]},"mark":{"type":"rule","color":"#0CF2F2","strokeWidth":4.5},
 "encoding":{"x":{"field":"x","type":"quantitative"},"y":{"field":"y","type":"quantitative"},"x2":{"field":"x2"},"y2":{"field":"y2"}}},
{"data":{"values":[{"x":-1.0517,"y":1.0435}]},"mark":{"type":"point","shape":"M-1,0L1,-0.6L0.6,0L1,0.6Z","filled":true,"opacity":1,"size":484,"angle":189,"color":"#0CF2F2"},
 "encoding":{"x":{"field":"x","type":"quantitative"},"y":{"field":"y","type":"quantitative"}}}
]
}
